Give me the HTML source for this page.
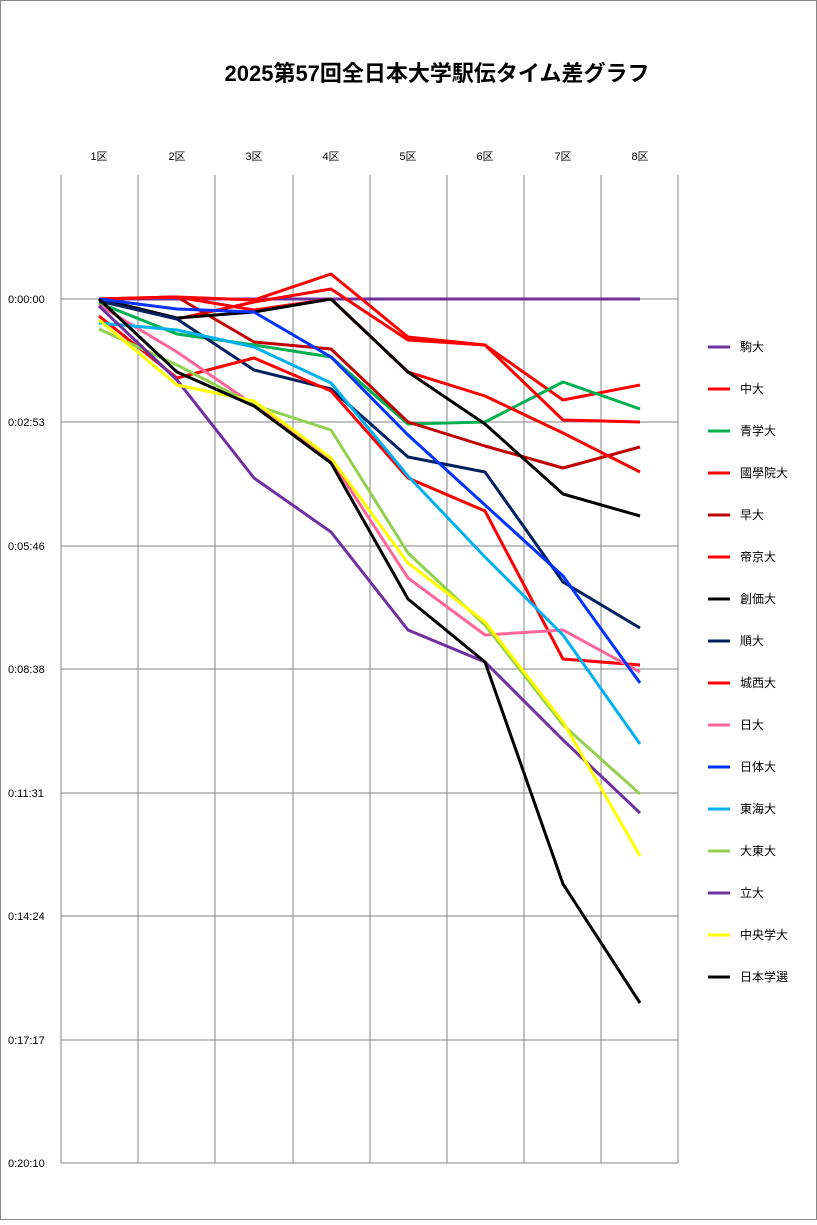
<!DOCTYPE html>
<html><head><meta charset="utf-8"><style>
body{margin:0;background:#fff}
svg text{font-family:"Liberation Sans","Noto Sans CJK JP",sans-serif}
</style></head><body>
<svg width="817" height="1220" xmlns="http://www.w3.org/2000/svg">
<rect x="0.5" y="0.5" width="816" height="1219" fill="#fff" stroke="#888"/>
<text x="437" y="81" text-anchor="middle" font-size="22" font-weight="bold">2025第57回全日本大学駅伝タイム差グラフ</text>
<g stroke="#868686" stroke-width="1">
<line x1="61" y1="175" x2="61" y2="1163"/><line x1="138" y1="175" x2="138" y2="1163"/><line x1="215" y1="175" x2="215" y2="1163"/><line x1="293" y1="175" x2="293" y2="1163"/><line x1="370" y1="175" x2="370" y2="1163"/><line x1="447" y1="175" x2="447" y2="1163"/><line x1="524" y1="175" x2="524" y2="1163"/><line x1="601" y1="175" x2="601" y2="1163"/><line x1="678" y1="175" x2="678" y2="1163"/>
<line x1="61" y1="299" x2="678" y2="299"/><line x1="61" y1="422" x2="678" y2="422"/><line x1="61" y1="546" x2="678" y2="546"/><line x1="61" y1="669" x2="678" y2="669"/><line x1="61" y1="793" x2="678" y2="793"/><line x1="61" y1="916" x2="678" y2="916"/><line x1="61" y1="1040" x2="678" y2="1040"/><line x1="61" y1="1163" x2="678" y2="1163"/>
</g>
<g font-size="11" text-anchor="middle">
<text x="99" y="160">1区</text><text x="177" y="160">2区</text><text x="254" y="160">3区</text><text x="331" y="160">4区</text><text x="408" y="160">5区</text><text x="485" y="160">6区</text><text x="563" y="160">7区</text><text x="640" y="160">8区</text>
</g>
<g font-size="11">
<text x="8" y="303">0:00:00</text><text x="8" y="426">0:02:53</text><text x="8" y="550">0:05:46</text><text x="8" y="673">0:08:38</text><text x="8" y="797">0:11:31</text><text x="8" y="920">0:14:24</text><text x="8" y="1044">0:17:17</text><text x="8" y="1167">0:20:10</text>
</g>
<g fill="none" stroke-width="3" stroke-linejoin="round">
<polyline stroke="#7030A0" points="99,299 177,299 254,299 331,299 408,299 485,299 563,299 640,299"/>
<polyline stroke="#FF0000" points="99,299 177,319 254,302 331,289 408,340 485,345 563,400 640,385"/>
<polyline stroke="#00B050" points="99,303 177,334 254,345 331,357 408,424 485,422 563,382 640,409"/>
<polyline stroke="#FF0000" points="99,299 177,297 254,300 331,274 408,337 485,345 563,420 640,422"/>
<polyline stroke="#C00000" points="99,299 177,297 254,342 331,349 408,422 485,446 563,468 640,447"/>
<polyline stroke="#FF0000" points="99,299 177,297 254,310 331,299 408,372 485,396 563,433 640,472"/>
<polyline stroke="#000000" points="99,299 177,318 254,312 331,299 408,372 485,424 563,494 640,516"/>
<polyline stroke="#002060" points="99,301 177,319 254,370 331,389 408,457 485,472 563,582 640,628"/>
<polyline stroke="#FF0000" points="99,316 177,378 254,358 331,391 408,478 485,511 563,659 640,665"/>
<polyline stroke="#FF6699" points="99,305 177,352 254,405 331,460 408,578 485,635 563,630 640,672"/>
<polyline stroke="#0033FF" points="99,299 177,309 254,312 331,357 408,435 485,505 563,576 640,683"/>
<polyline stroke="#00B0F0" points="99,323 177,330 254,347 331,383 408,476 485,557 563,635 640,744"/>
<polyline stroke="#92D050" points="99,329 177,365 254,405 331,430 408,553 485,625 563,725 640,794"/>
<polyline stroke="#7030A0" points="99,306 177,380 254,478 331,532 408,630 485,662 563,740 640,813"/>
<polyline stroke="#FFFF00" points="99,320 177,385 254,401 331,458 408,563 485,622 563,722 640,856"/>
<polyline stroke="#000000" points="99,299 177,372 254,406 331,463 408,599 485,662 563,884 640,1003"/>
</g>
<g stroke-width="3">
<line x1="708" y1="347" x2="730" y2="347" stroke="#7030A0"/>
<line x1="708" y1="389" x2="730" y2="389" stroke="#FF0000"/>
<line x1="708" y1="431" x2="730" y2="431" stroke="#00B050"/>
<line x1="708" y1="473" x2="730" y2="473" stroke="#FF0000"/>
<line x1="708" y1="515" x2="730" y2="515" stroke="#C00000"/>
<line x1="708" y1="557" x2="730" y2="557" stroke="#FF0000"/>
<line x1="708" y1="599" x2="730" y2="599" stroke="#000000"/>
<line x1="708" y1="641" x2="730" y2="641" stroke="#002060"/>
<line x1="708" y1="683" x2="730" y2="683" stroke="#FF0000"/>
<line x1="708" y1="725" x2="730" y2="725" stroke="#FF6699"/>
<line x1="708" y1="767" x2="730" y2="767" stroke="#0033FF"/>
<line x1="708" y1="809" x2="730" y2="809" stroke="#00B0F0"/>
<line x1="708" y1="851" x2="730" y2="851" stroke="#92D050"/>
<line x1="708" y1="893" x2="730" y2="893" stroke="#7030A0"/>
<line x1="708" y1="935" x2="730" y2="935" stroke="#FFFF00"/>
<line x1="708" y1="977" x2="730" y2="977" stroke="#000000"/>
</g>
<g font-size="12">
<text x="740" y="351">駒大</text><text x="740" y="393">中大</text><text x="740" y="435">青学大</text><text x="740" y="477">國學院大</text><text x="740" y="519">早大</text><text x="740" y="561">帝京大</text><text x="740" y="603">創価大</text><text x="740" y="645">順大</text><text x="740" y="687">城西大</text><text x="740" y="729">日大</text><text x="740" y="771">日体大</text><text x="740" y="813">東海大</text><text x="740" y="855">大東大</text><text x="740" y="897">立大</text><text x="740" y="939">中央学大</text><text x="740" y="981">日本学選</text>
</g>
</svg>
</body></html>
